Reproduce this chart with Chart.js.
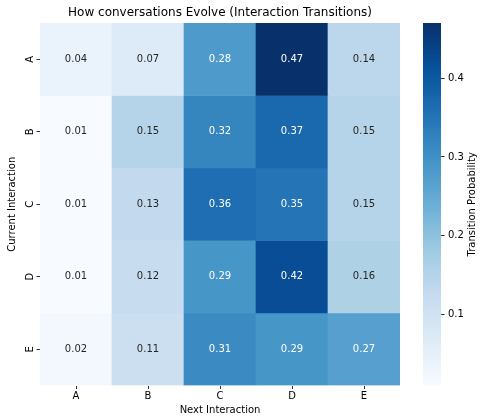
<!DOCTYPE html>
<html>
<head>
<meta charset="utf-8">
<script src="https://cdn.jsdelivr.net/npm/chart.js@4"></script>
<style>
  html, body { margin: 0; padding: 0; background: #fff; }
  #wrap { position: relative; width: 481px; height: 419px; }
  #heatChart { position: absolute; left: 0; top: 0; }
  #barChart  { position: absolute; left: 423px; top: 0; }
</style>
</head>
<body>
<div id="wrap">
  <canvas id="heatChart" width="481" height="419"></canvas>
  <canvas id="barChart" width="58" height="419"></canvas>
</div>
<script>
'use strict';

// rows = current interaction, columns = next interaction
const rowLabels = ['A', 'B', 'C', 'D', 'E'];
const colLabels = ['A', 'B', 'C', 'D', 'E'];
const fromA = [0.04, 0.07, 0.28, 0.47, 0.14];
const fromB = [0.01, 0.15, 0.32, 0.37, 0.15];
const fromC = [0.01, 0.13, 0.36, 0.35, 0.15];
const fromD = [0.01, 0.12, 0.29, 0.42, 0.16];
const fromE = [0.02, 0.11, 0.31, 0.29, 0.27];
const cbTicks = [0.1, 0.2, 0.3, 0.4];

const matrix = [fromA, fromB, fromC, fromD, fromE];
const vMin = Math.min(...matrix.flat());
const vMax = Math.max(...matrix.flat());

Chart.defaults.font.family = "'DejaVu Sans', sans-serif";
Chart.defaults.font.size = 10;
Chart.defaults.color = '#000';

/* ── Blues colormap ─────────────────────────────────── */
const BLUES = ['#f7fbff', '#deebf7', '#c6dbef', '#9ecae1', '#6baed6',
               '#4292c6', '#2171b5', '#08519c', '#08306b'];

function hexRgb(h) {
    return [1, 3, 5].map(i => parseInt(h.slice(i, i + 2), 16));
}

function bluesRgb(v) {
    const t = Math.max(0, Math.min(1, (v - vMin) / (vMax - vMin))) * (BLUES.length - 1);
    const k = Math.min(Math.floor(t), BLUES.length - 2);
    const f = t - k;
    const a = hexRgb(BLUES[k]), b = hexRgb(BLUES[k + 1]);
    return a.map((c, i) => Math.round(c + (b[i] - c) * f));
}

function blues(v) {
    const [r, g, b] = bluesRgb(v);
    return `rgb(${r},${g},${b})`;
}

// same rule seaborn uses to pick annotation colour
function luminance(v) {
    const lin = bluesRgb(v).map(c => {
        c /= 255;
        return c <= 0.03928 ? c / 12.92 : Math.pow((c + 0.055) / 1.055, 2.4);
    });
    return 0.2126 * lin[0] + 0.7152 * lin[1] + 0.0722 * lin[2];
}

/* ── Plugins ────────────────────────────────────────── */
const cellLabels = {
    id: 'cellLabels',
    afterDatasetsDraw(chart) {
        const ctx = chart.ctx;
        ctx.save();
        ctx.font = "10px 'DejaVu Sans'";
        ctx.textAlign = 'center';
        ctx.textBaseline = 'middle';
        chart.data.datasets.forEach((ds, i) => {
            chart.getDatasetMeta(i).data.forEach((bar, j) => {
                const v = ds.values[j];
                ctx.fillStyle = luminance(v) > 0.408 ? '#262626' : '#ffffff';
                ctx.fillText(v.toFixed(2), bar.x, (bar.y + bar.base) / 2);
            });
        });
        ctx.restore();
    }
};

const heatTitle = {
    id: 'heatTitle',
    afterDraw(chart) {
        const { ctx, chartArea: a } = chart;
        ctx.save();
        ctx.font = "12px 'DejaVu Sans'";
        ctx.fillStyle = '#000';
        ctx.textAlign = 'center';
        ctx.textBaseline = 'middle';
        ctx.fillText('How conversations Evolve (Interaction Transitions)', (a.left + a.right) / 2, 13);
        ctx.restore();
    }
};

const cbGradient = {
    id: 'cbGradient',
    beforeDatasetsDraw(chart) {
        const { ctx, chartArea: a, scales: { y } } = chart;
        const g = ctx.createLinearGradient(0, y.getPixelForValue(vMin), 0, y.getPixelForValue(vMax));
        BLUES.forEach((c, k) => g.addColorStop(k / (BLUES.length - 1), c));
        ctx.save();
        ctx.fillStyle = g;
        ctx.fillRect(a.left, a.top, a.right - a.left, a.bottom - a.top);
        ctx.restore();
    },
    afterDraw(chart) {
        const { ctx, chartArea: a } = chart;
        ctx.save();
        ctx.font = "10px 'DejaVu Sans'";
        ctx.fillStyle = '#000';
        ctx.textAlign = 'center';
        ctx.textBaseline = 'middle';
        ctx.translate(49, (a.top + a.bottom) / 2);
        ctx.rotate(-Math.PI / 2);
        ctx.fillText('Transition Probability', 0, 0);
        ctx.restore();
    }
};

const tickGrid = {
    display: true,
    drawOnChartArea: false,
    drawTicks: true,
    tickLength: 3.5,
    tickWidth: 0.8,
    tickColor: '#000',
    offset: false,
};

/* ── Heatmap ────────────────────────────────────────── */
new Chart(document.getElementById('heatChart'), {
    type: 'bar',
    data: {
        labels: colLabels,
        datasets: rowLabels.map((r, i) => ({
            label: r,
            data: colLabels.map(() => 1),
            values: matrix[i],
            backgroundColor: matrix[i].map(blues),
            borderWidth: 0,
            barPercentage: 1,
            categoryPercentage: 1,
        }))
    },
    options: {
        responsive: false,
        animation: false,
        layout: { padding: { top: 23, right: 81, left: 0, bottom: 0 } },
        plugins: { legend: { display: false }, tooltip: { enabled: false } },
        scales: {
            x: {
                stacked: true,
                grid: tickGrid,
                border: { display: false },
                ticks: { padding: 1.5 },
                title: { display: true, text: 'Next Interaction', padding: { top: 0, bottom: 3 } },
                afterFit: s => { s.height = 33.5; }
            },
            y: {
                type: 'linear',
                stacked: true,
                reverse: true,
                min: 0,
                max: rowLabels.length,
                grid: tickGrid,
                border: { display: false },
                afterBuildTicks: s => { s.ticks = rowLabels.map((_, i) => ({ value: i + 0.5 })); },
                ticks: {
                    minRotation: 90, maxRotation: 90,
                    crossAlign: 'center',
                    padding: 2.2,
                    callback: v => rowLabels[Math.floor(v)]
                },
                title: { display: true, text: 'Current Interaction', padding: { top: 6.5, bottom: 0 } },
                afterFit: s => { s.width = 40; }
            }
        }
    },
    plugins: [cellLabels, heatTitle]
});

/* ── Colorbar ───────────────────────────────────────── */
new Chart(document.getElementById('barChart'), {
    type: 'scatter',
    data: { datasets: [] },
    options: {
        responsive: false,
        animation: false,
        layout: { padding: { top: 23, right: 0, left: 0, bottom: 33.5 } },
        plugins: { legend: { display: false }, tooltip: { enabled: false } },
        scales: {
            x: { display: false },
            y: {
                position: 'right',
                min: vMin,
                max: vMax,
                grid: tickGrid,
                border: { display: false },
                afterBuildTicks: s => { s.ticks = cbTicks.map(v => ({ value: v })); },
                ticks: { padding: 3.5, callback: v => v.toFixed(1) },
                afterFit: s => { s.width = 40; }
            }
        }
    },
    plugins: [cbGradient]
});
</script>
</body>
</html>
